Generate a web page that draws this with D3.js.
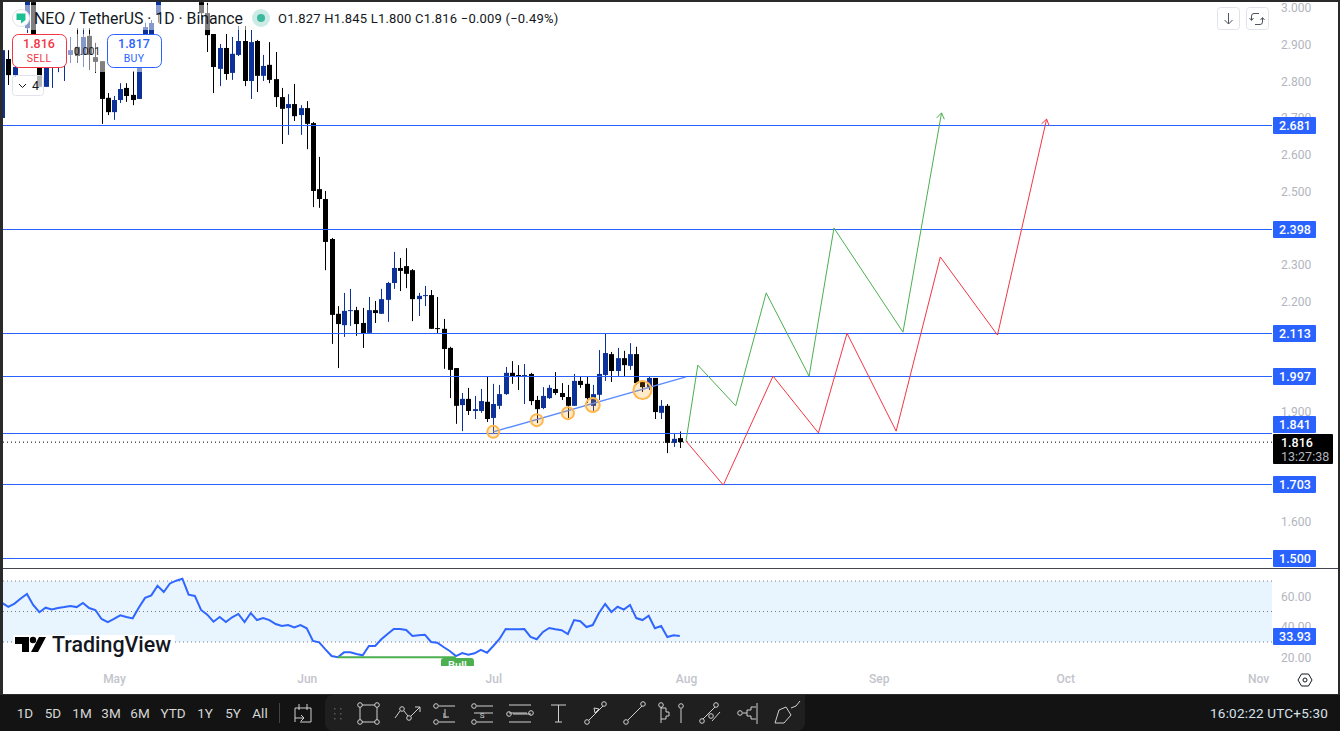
<!DOCTYPE html>
<html>
<head>
<meta charset="utf-8">
<title>NEO / TetherUS 1D</title>
<script src="https://cdn.jsdelivr.net/npm/d3@7"></script>
<style>
  html, body { margin: 0; padding: 0; background: #2a2a2a; overflow: hidden; }
  svg { display: block; }
  text { font-family: Roboto, "Liberation Sans", sans-serif; }
</style>
</head>
<body>
<script>
// daily candles, oldest first, the last one is Jul 31
var opens = [2.700,2.861,2.817,2.872,2.945,3.016,2.885,2.785,2.845,2.858,2.853,2.872,2.894,2.872,2.924,2.866,2.855,2.755,2.716,2.749,2.782,2.763,2.752,2.885,2.921,2.981,3.05,3.11,3.18,3.22,3.25,3.15,3.016,2.986,2.929,2.834,2.891,2.823,2.872,2.910,2.801,2.910,2.815,2.845,2.806,2.757,2.727,2.738,2.708,2.727,2.686,2.506,2.479,2.370,2.166,2.135,2.174,2.176,2.141,2.114,2.176,2.166,2.204,2.250,2.291,2.296,2.285,2.206,2.215,2.217,2.127,2.125,2.073,2.018,1.917,1.934,1.901,1.901,1.926,1.882,1.915,1.947,2.005,1.999,1.994,2.002,1.931,1.909,1.936,1.961,1.950,1.939,1.915,1.983,1.975,1.915,1.945,1.999,2.056,2.010,2.045,2.024,2.056,1.983,1.966,1.991,1.896,1.915,1.814,1.827];
var highs = [2.89,2.885,2.90,2.91,3.03,3.03,2.90,2.87,2.89,2.92,2.90,2.921,2.945,2.945,2.945,2.905,2.855,2.768,2.760,2.795,2.795,2.828,2.885,2.96,2.967,3.06,3.14,3.20,3.26,3.30,3.28,3.18,3.05,3.014,2.929,2.902,2.929,2.921,2.951,2.951,2.940,2.913,2.872,2.907,2.880,2.782,2.765,2.793,2.735,2.746,2.689,2.594,2.501,2.373,2.187,2.223,2.234,2.185,2.182,2.212,2.201,2.234,2.253,2.335,2.318,2.345,2.288,2.223,2.242,2.231,2.212,2.152,2.076,2.018,1.950,1.964,1.942,1.961,1.996,1.975,1.972,2.021,2.037,2.026,2.029,2.005,1.942,1.966,1.972,2.007,1.977,1.972,2.002,1.996,1.994,1.972,2.067,2.111,2.062,2.073,2.065,2.086,2.076,1.985,1.994,1.991,1.931,1.920,1.841,1.845];
var lows = [2.695,2.790,2.812,2.85,2.932,2.88,2.785,2.785,2.782,2.825,2.801,2.850,2.850,2.839,2.831,2.823,2.684,2.708,2.695,2.741,2.744,2.735,2.752,2.88,2.899,2.96,3.04,3.08,3.13,3.16,3.12,3.05,2.967,2.880,2.768,2.787,2.804,2.804,2.869,2.787,2.752,2.771,2.801,2.795,2.730,2.629,2.654,2.692,2.654,2.615,2.457,2.455,2.285,2.084,2.018,2.103,2.133,2.106,2.073,2.114,2.141,2.166,2.144,2.234,2.228,2.236,2.146,2.160,2.187,2.125,2.111,2.016,1.936,1.866,1.846,1.890,1.879,1.896,1.871,1.841,1.906,1.945,1.975,1.958,1.920,1.917,1.868,1.906,1.934,1.945,1.931,1.882,1.915,1.964,1.923,1.898,1.931,1.983,1.980,1.994,1.996,2.013,1.972,1.953,1.958,1.879,1.879,1.786,1.803,1.800];
var closes = [2.885,2.817,2.839,2.899,3.02,2.899,2.785,2.858,2.872,2.899,2.885,2.885,2.869,2.921,2.872,2.853,2.752,2.716,2.749,2.779,2.760,2.749,2.885,2.948,2.959,3.05,3.11,3.18,3.22,3.25,3.15,3.08,2.986,2.926,2.839,2.891,2.820,2.875,2.910,2.801,2.907,2.815,2.842,2.804,2.757,2.725,2.738,2.705,2.727,2.684,2.501,2.479,2.362,2.163,2.138,2.174,2.176,2.138,2.111,2.176,2.168,2.206,2.250,2.291,2.283,2.275,2.206,2.215,2.217,2.125,2.125,2.070,2.013,1.915,1.934,1.901,1.906,1.928,1.879,1.920,1.947,2.005,1.996,1.996,1.999,1.928,1.906,1.942,1.964,1.950,1.939,1.915,1.983,1.972,1.936,1.947,2.002,2.059,2.010,2.045,2.026,2.056,1.977,1.966,1.991,1.898,1.915,1.814,1.825,1.816];
var rsiValues = [55.6,53.1,55.2,58.5,61.5,54.3,49.5,52.5,51.4,52.3,52.9,53.6,52.9,55.6,52.3,51.0,45.1,43.1,45.1,47.5,46.4,45.5,52.6,58.9,60.6,66.9,62.8,68.4,70.2,71.5,61.0,60.2,51.0,47.9,43.3,46.4,43.1,46.2,48.4,43.1,49.0,44.4,45.7,44.4,41.8,40.5,41.1,39.6,41.1,39.0,30.7,29.8,25.2,20.8,20.0,23.2,23.2,22.1,21.3,27.4,27.4,31.8,35.2,38.5,38.5,37.9,33.9,34.4,34.8,30.0,29.5,26.7,24.1,20.8,22.8,21.7,22.6,24.8,23.0,27.4,32.0,38.5,38.3,38.3,38.5,33.3,31.8,36.6,39.2,38.3,37.7,35.2,44.4,43.6,39.8,41.1,49.0,54.9,49.7,53.1,51.2,54.3,45.7,44.4,47.2,39.0,40.5,33.3,34.4,33.93];

var lastCandle = "2022-07-31";
var priceTicks = [3.0,2.9,2.8,2.7,2.6,2.5,2.3,2.2,1.9,1.6];
var rsiTicks = [60,40,20];
var rsiBands = [70,50,30];
var monthTicks = ["2022-05-01","2022-06-01","2022-07-01","2022-08-01","2022-09-01","2022-10-01","2022-11-01"];
var levels = [2.681,2.398,2.113,1.997,1.841,1.703,1.500];

// drawn scenario paths: days after Aug 1, price
var greenDays = [0,1.9,8,12.9,19.8,23.8,34.9,41.1];
var greenPrices = [1.819,2.026,1.915,2.223,1.996,2.400,2.116,2.714];
var redDays = [0,6,14,21.3,25.9,33.8,40.9,50.1,58];
var redPrices = [1.819,1.699,1.996,1.841,2.113,1.846,2.321,2.108,2.697];
var trendDates = ["2022-07-01","2022-08-01"];
var trendPrices = [1.844,1.994];
var circleDates = ["2022-07-01","2022-07-08","2022-07-13","2022-07-17","2022-07-25"];
var circlePrices = [1.844,1.876,1.895,1.917,1.958];
var circleSizes = [6,6,6,7,9];
var bullDates = ["2022-06-06","2022-06-25"];
var bullRsi = [20.0,20.0];
var rangeLabels = ["1D","5D","1M","3M","6M","YTD","1Y","5Y","All"];
var rangeCenters = [25,53,82,111,140,173,205,233,260];

var W = 1340, H = 731;
var plotL = 3, plotR = 1272;
var parse = d3.utcParse("%Y-%m-%d");
var blue = "#2962ff", candleBlue = "#0c3299";

var svg = d3.select("body").append("svg").attr("width", W).attr("height", H);

var x = d3.scaleUtc().domain([parse("2022-05-01"), parse("2022-11-01")]).range([114, 1258]);
var y = d3.scaleLinear().domain([3, 1.5]).range([8, 558]);
var yRsi = d3.scaleLinear().domain([70, 30]).range([581, 642]);

svg.append("rect").attr("x", plotL).attr("y", 2).attr("width", 1335).attr("height", 692).attr("fill", "#fff");

var defs = svg.append("defs");
defs.append("clipPath").attr("id", "pricePane").append("rect").attr("x", plotL).attr("y", 2).attr("width", plotR - plotL).attr("height", 566);
defs.append("clipPath").attr("id", "rsiPane").append("rect").attr("x", plotL).attr("y", 569).attr("width", plotR - plotL).attr("height", 97);

// candles
var candles = opens.map(function(o, i) {
  return { date: d3.utcDay.offset(parse(lastCandle), i - opens.length + 1), o: o, h: highs[i], l: lows[i], c: closes[i], rsi: rsiValues[i] };
});

var pane = svg.append("g").attr("clip-path", "url(#pricePane)");

var candle = pane.selectAll("g.candle").data(candles).enter().append("g").attr("class", "candle")
  .attr("fill", function(d) { return d.c >= d.o ? candleBlue : "#000"; });
candle.append("rect")
  .attr("x", function(d) { return Math.round(x(d.date)); })
  .attr("width", 1)
  .attr("y", function(d) { return y(d.h); })
  .attr("height", function(d) { return y(d.l) - y(d.h); });
candle.append("rect")
  .attr("x", function(d) { return Math.round(x(d.date)) - 2; })
  .attr("width", 5)
  .attr("y", function(d) { return y(Math.max(d.o, d.c)); })
  .attr("height", function(d) { return Math.max(1, Math.abs(y(d.o) - y(d.c))); });

// horizontal levels and the last price line
pane.selectAll("line.level").data(levels).enter().append("line").attr("class", "level")
  .attr("x1", plotL).attr("x2", plotR)
  .attr("y1", function(d) { return Math.round(y(d)) + 0.5; })
  .attr("y2", function(d) { return Math.round(y(d)) + 0.5; })
  .attr("stroke", blue).attr("stroke-width", 1);
pane.append("line").attr("x1", plotL).attr("x2", plotR)
  .attr("y1", y(closes[closes.length - 1])).attr("y2", y(closes[closes.length - 1]))
  .attr("stroke", "#000").attr("stroke-dasharray", "1 3");

// trend line and touch circles
pane.append("line")
  .attr("x1", x(parse(trendDates[0]))).attr("y1", y(trendPrices[0]))
  .attr("x2", x(parse(trendDates[1]))).attr("y2", y(trendPrices[1]))
  .attr("stroke", "#5b8cff").attr("stroke-width", 1.5);
pane.selectAll("circle.touch").data(circleDates).enter().append("circle").attr("class", "touch")
  .attr("cx", function(d) { return x(parse(d)); })
  .attr("cy", function(d, i) { return y(circlePrices[i]); })
  .attr("r", function(d, i) { return circleSizes[i]; })
  .attr("fill", "rgba(255,152,0,0.2)").attr("stroke", "#ffb74d").attr("stroke-width", 2);

// scenario paths with arrow heads
function scenario(days, prices, color) {
  var x0 = x(parse("2022-08-01")), perDay = x(parse("2022-08-02")) - x0;
  var pts = days.map(function(d, i) { return [x0 + perDay * d, y(prices[i])]; });
  pane.append("path").attr("d", d3.line()(pts)).attr("fill", "none").attr("stroke", color).attr("stroke-width", 1);
  var a = pts[pts.length - 2], b = pts[pts.length - 1];
  var ang = Math.atan2(b[1] - a[1], b[0] - a[0]);
  [-2.55, 2.55].forEach(function(t) {
    pane.append("line").attr("x1", b[0]).attr("y1", b[1])
      .attr("x2", b[0] + 7 * Math.cos(ang + t)).attr("y2", b[1] + 7 * Math.sin(ang + t))
      .attr("stroke", color).attr("stroke-width", 1);
  });
}
scenario(greenDays, greenPrices, "#4caf50");
scenario(redDays, redPrices, "#f23645");

// translucent legend backgrounds
svg.append("rect").attr("x", 12).attr("y", 5).attr("width", 238).attr("height", 25).attr("fill", "#fff").attr("opacity", 0.5);
svg.append("rect").attr("x", 68).attr("y", 34).attr("width", 94).attr("height", 38).attr("fill", "#fff").attr("opacity", 0.5);

// legend
svg.append("circle").attr("cx", 21).attr("cy", 18).attr("r", 8.5).attr("fill", "#fff").attr("stroke", "#e0e3eb");
svg.append("path").attr("d", "M16.5 13.5h9v6.5l-4.5 3.5v-3.5h-4.5z").attr("fill", "#1fbf94");
svg.append("text").attr("x", 34).attr("y", 24).attr("font-size", 15.8).attr("fill", "#131722").text("NEO / TetherUS · 1D · Binance");
svg.append("circle").attr("cx", 261).attr("cy", 18).attr("r", 9).attr("fill", "#cdebe5");
svg.append("circle").attr("cx", 261).attr("cy", 18).attr("r", 4).attr("fill", "#3bb89e");
svg.append("text").attr("x", 278).attr("y", 23).attr("font-size", 13).attr("fill", "#131722").attr("letter-spacing", 0.2)
  .text("O1.827  H1.845  L1.800  C1.816  −0.009 (−0.49%)");

function tradeBox(bx, color, price, label) {
  svg.append("rect").attr("x", bx + 0.5).attr("y", 34.5).attr("width", 54).attr("height", 33).attr("rx", 6)
    .attr("fill", "#fff").attr("stroke", color);
  svg.append("text").attr("x", bx + 27).attr("y", 48).attr("text-anchor", "middle").attr("font-size", 12.5).attr("font-weight", 500).attr("fill", color).text(price);
  svg.append("text").attr("x", bx + 27).attr("y", 62).attr("text-anchor", "middle").attr("font-size", 10.5).attr("fill", color).attr("letter-spacing", 0.3).text(label);
}
tradeBox(12, "#f23645", "1.816", "SELL");
tradeBox(107, "#2962ff", "1.817", "BUY");
svg.append("text").attr("x", 87).attr("y", 55).attr("text-anchor", "middle").attr("font-size", 10.5).attr("fill", "#131722").text("0.001");

svg.append("rect").attr("x", 12.5).attr("y", 75.5).attr("width", 31).attr("height", 20).attr("rx", 3)
  .attr("fill", "rgba(255,255,255,0.7)").attr("stroke", "#e0e3eb");
svg.append("path").attr("d", "M19 84l3.5 3.5 3.5-3.5").attr("fill", "none").attr("stroke", "#131722");
svg.append("text").attr("x", 32).attr("y", 90).attr("font-size", 12.5).attr("fill", "#131722").text("4");

// top right buttons
[1217, 1246].forEach(function(bx) {
  svg.append("rect").attr("x", bx + 0.5).attr("y", 7.5).attr("width", 22).attr("height", 22).attr("rx", 3).attr("fill", "#fff").attr("stroke", "#e0e3eb");
});
svg.append("path").attr("d", "M1228.5 13v11M1224.5 20l4 4 4-4").attr("fill", "none").attr("stroke", "#50535e");
svg.append("path").attr("d", "M1259 13.5h-5a2.5 2.5 0 0 0-2.5 2.5v4M1255 24.500h5a2.5 2.500 0 0 0 2.500-2.500v-4M1249.500 18l2 2.500 2-2.500M1260.500 20l2-2.500 2 2.500").attr("fill", "none").attr("stroke", "#50535e");

// price axis
var priceAxis = d3.axisRight(y).tickValues(priceTicks).tickFormat(d3.format(".3f")).tickSize(0).tickPadding(0);
var gPrice = svg.append("g").attr("transform", "translate(1281,0)").call(priceAxis);
gPrice.select(".domain").remove();
gPrice.selectAll("text").attr("font-family", "Roboto, sans-serif").attr("font-size", 12).attr("fill", "#b2b5be");

// level tags
levels.forEach(function(v) {
  var ty = v === 1.841 ? y(v) - 8.5 : y(v);
  svg.append("rect").attr("x", 1273).attr("y", Math.round(ty) - 8).attr("width", 43).attr("height", 17).attr("rx", 1).attr("fill", blue);
  svg.append("text").attr("x", 1295).attr("y", Math.round(ty) + 4.5).attr("text-anchor", "middle").attr("font-size", 12.5).attr("font-weight", 500).attr("fill", "#fff").text(d3.format(".3f")(v));
});
svg.append("rect").attr("x", 1273).attr("y", 434).attr("width", 60).attr("height", 30).attr("rx", 1).attr("fill", "#000");
svg.append("text").attr("x", 1281).attr("y", 447).attr("font-size", 12.5).attr("font-weight", 500).attr("fill", "#fff").text("1.816");
svg.append("text").attr("x", 1281).attr("y", 461).attr("font-size", 12.5).attr("fill", "#b2b5be").text("13:27:38");

// RSI pane
svg.append("line").attr("x1", plotL).attr("x2", 1338).attr("y1", 568.5).attr("y2", 568.5).attr("stroke", "#434651");
var rsiPane = svg.append("g").attr("clip-path", "url(#rsiPane)");
rsiPane.append("rect").attr("x", plotL).attr("y", yRsi(70)).attr("width", plotR - plotL).attr("height", yRsi(30) - yRsi(70)).attr("fill", "#e8f4fe");
rsiPane.selectAll("line.band").data(rsiBands).enter().append("line").attr("class", "band")
  .attr("x1", plotL).attr("x2", plotR)
  .attr("y1", function(d) { return yRsi(d); }).attr("y2", function(d) { return yRsi(d); })
  .attr("stroke", "#787b86").attr("stroke-dasharray", "1 3");

// watermark sits under the RSI line
svg.append("rect").attr("x", 13).attr("y", 635).attr("width", 162).attr("height", 22).attr("fill", "#fff");
svg.append("path").attr("d", "M15 637h14v15h-7v-8h-7zM39 637h7l-8 15h-7z").attr("fill", "#000");
svg.append("circle").attr("cx", 33).attr("cy", 640).attr("r", 3.2).attr("fill", "#000");
svg.append("text").attr("x", 52).attr("y", 652).attr("font-family", "Inter, sans-serif").attr("font-size", 21.4).attr("font-weight", 500).attr("fill", "#131722").text("TradingView");

var rsiGroup = svg.append("g").attr("clip-path", "url(#rsiPane)");
rsiGroup.append("path")
  .attr("d", d3.line().x(function(d) { return x(d.date); }).y(function(d) { return yRsi(d.rsi); })(candles))
  .attr("fill", "none").attr("stroke", "#2f66ff").attr("stroke-width", 2);
rsiGroup.append("line")
  .attr("x1", x(parse(bullDates[0]))).attr("x2", x(parse(bullDates[1])))
  .attr("y1", yRsi(bullRsi[0])).attr("y2", yRsi(bullRsi[1]))
  .attr("stroke", "#4caf50").attr("stroke-width", 2);
rsiGroup.append("rect").attr("x", x(parse(bullDates[1])) - 15).attr("y", 658).attr("width", 33).attr("height", 20).attr("rx", 3).attr("fill", "#4caf50");
rsiGroup.append("text").attr("x", x(parse(bullDates[1])) + 1.5).attr("y", 669).attr("text-anchor", "middle").attr("font-size", 11).attr("font-weight", 500).attr("fill", "#fff").text("Bull");

var rsiAxis = d3.axisRight(yRsi).tickValues(rsiTicks).tickFormat(d3.format(".2f")).tickSize(0).tickPadding(0);
var gRsi = svg.append("g").attr("transform", "translate(1281,0)").call(rsiAxis);
gRsi.select(".domain").remove();
gRsi.selectAll("text").attr("font-family", "Roboto, sans-serif").attr("font-size", 12).attr("fill", "#b2b5be");
svg.append("rect").attr("x", 1273).attr("y", Math.round(yRsi(rsiValues[rsiValues.length - 1])) - 8).attr("width", 43).attr("height", 17).attr("rx", 1).attr("fill", blue);
svg.append("text").attr("x", 1295).attr("y", Math.round(yRsi(rsiValues[rsiValues.length - 1])) + 4.5).attr("text-anchor", "middle").attr("font-size", 12.5).attr("font-weight", 500).attr("fill", "#fff").text(d3.format(".2f")(rsiValues[rsiValues.length - 1]));

// time axis
var timeAxis = d3.axisBottom(x).tickValues(monthTicks.map(parse)).tickFormat(d3.utcFormat("%b")).tickSize(0).tickPadding(0);
var gTime = svg.append("g").attr("transform", "translate(0,674)").call(timeAxis);
gTime.select(".domain").remove();
gTime.selectAll("text").attr("font-family", "Roboto, sans-serif").attr("font-size", 12).attr("font-weight", 500).attr("fill", "#c2c4cc");

// settings hexagon
svg.append("path").attr("d", "M1298 680l3.5-6h7l3.5 6-3.5 6h-7z").attr("fill", "none").attr("stroke", "#131722");
svg.append("circle").attr("cx", 1305).attr("cy", 680).attr("r", 2).attr("fill", "none").attr("stroke", "#131722");

// bottom toolbar
svg.append("rect").attr("x", 0).attr("y", 695).attr("width", W).attr("height", 36).attr("fill", "#131313");
svg.append("path").attr("d", "M805 695v28a8 8 0 0 1-8 8H333a8 8 0 0 1-8-8v-20a8 8 0 0 1 8-8z").attr("fill", "#1f1f1f");
rangeLabels.forEach(function(t, i) {
  svg.append("text").attr("x", rangeCenters[i]).attr("y", 718).attr("text-anchor", "middle").attr("font-size", 13.5).attr("fill", "#d6d6d6").text(t);
});
svg.append("line").attr("x1", 279.5).attr("x2", 279.5).attr("y1", 703).attr("y2", 723).attr("stroke", "#444");
svg.append("text").attr("x", 1328).attr("y", 718).attr("text-anchor", "end").attr("font-size", 13.5).attr("fill", "#d6e2ea").attr("letter-spacing", 0.2).text("16:02:22 UTC+5:30");

// toolbar glyphs
var toolIcons = [
  "M295 708h16v14h-11M295 722l0-14M299 704v6M307 704v6M295 718h9M301 715l3 3-3 3",
  "M360 707v13M377 707v13M362 705h13M362 722h13",
  "M395 718l5-7M404 711l4 5M411 716l9-9M415 707h5v5",
  "M439 706h16M439 722h16M445 709v8h4",
  "M477 706h16M474 713h19M477 722h16",
  "M509 705h22M509 713h18M513 714h18M509 722h22",
  "M551 705h15M558.500 705v17M555 722h7",
  "M589 720l14-14M594 708l5 1-4 4z",
  "M628 720l14-14",
  "M661 707v16M661 708h5v4h3v4h-3v3h-5M681 709v14",
  "M703 719l12-12M712 721l8-9",
  "M743 713h4v-3h4v-3h5M747 713v3h4v3h5M757 703v21",
  "M775 723l4-13 7-3 5 8-7 8zM791 708l5-2 4-5"
];
svg.selectAll("path.tool").data(toolIcons).enter().append("path").attr("class", "tool")
  .attr("d", function(d) { return d; }).attr("fill", "none").attr("stroke", "#d0d0d0").attr("stroke-width", 1);

var toolKnobsX = [360,377,360,377,402,409,436,436,474,474,531,509,587,604,626,643,661,681,702,716,711,740];
var toolKnobsY = [705,705,722,722,709,718,706,722,706,722,713,714,722,704,722,704,705,706,721,705,716,713];
svg.selectAll("circle.knob").data(toolKnobsX).enter().append("circle").attr("class", "knob")
  .attr("cx", function(d) { return d; })
  .attr("cy", function(d, i) { return toolKnobsY[i]; })
  .attr("r", 2.3).attr("fill", "none").attr("stroke", "#d0d0d0");
[[445, "L"], [482, "S"]].forEach(function(t) {
  svg.append("text").attr("x", t[0]).attr("y", 718).attr("text-anchor", "middle").attr("font-size", 8).attr("fill", "#d0d0d0").text(t[1]);
});

// grip dots
[334, 340].forEach(function(gx) {
  [708, 713, 718].forEach(function(gy) {
    svg.append("rect").attr("x", gx).attr("y", gy).attr("width", 1.5).attr("height", 1.5).attr("fill", "#5a5a5a");
  });
});
</script>
</body>
</html>
